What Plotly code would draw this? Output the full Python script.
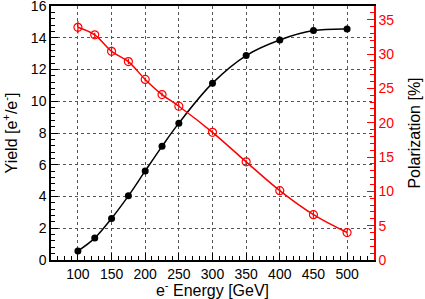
import plotly.graph_objects as go

energy = [100, 125, 150, 175, 200, 225, 250, 300, 350, 400, 450, 500]
yield_vals = [0.57, 1.38, 2.62, 4.04, 5.61, 7.16, 8.62, 11.14, 12.88, 13.86, 14.45, 14.55]
polarization = [33.9, 32.8, 30.4, 28.9, 26.3, 24.1, 22.4, 18.6, 14.3, 10.1, 6.6, 4.0]
pol_err = [0.9, 0.3, 0.7, 0.4, 0.3, 0.3, 0.3, 0.3, 0.3, 0.3, 0.3, 0.3]

FONT = "Liberation Sans, Arial, sans-serif"
RED = "#ff0000"

fig = go.Figure()
fig.add_trace(go.Scatter(
    x=energy, y=yield_vals, mode="lines+markers",
    line=dict(color="black", width=1.5, shape="spline"),
    marker=dict(color="black", size=7, symbol="circle"),
    showlegend=False, yaxis="y"))
fig.add_trace(go.Scatter(
    x=energy, y=polarization, mode="lines+markers",
    line=dict(color=RED, width=1.5, shape="spline"),
    marker=dict(color=RED, size=8, symbol="circle-open", line=dict(width=1.2)),
    error_y=dict(type="data", array=pol_err, color=RED, thickness=1.2, width=0),
    showlegend=False, yaxis="y2"))

fig.update_layout(
    width=425, height=299,
    margin=dict(l=51, r=51, t=6, b=39),
    paper_bgcolor="white", plot_bgcolor="white",
    font=dict(family=FONT, size=14, color="black"),
    xaxis=dict(
        range=[60, 540], tick0=0, dtick=50, automargin=False,
        ticks="inside", ticklen=7, tickcolor="black", tickwidth=1,
        minor=dict(ticks="inside", ticklen=4, dtick=10, tickcolor="black", showgrid=False),
        showline=True, linecolor="black", linewidth=1.5, mirror=True,
        showgrid=True, gridcolor="#555555", griddash="dot", gridwidth=1,
        zeroline=False,
        tickfont=dict(size=14),
        title=dict(text="e<sup>-</sup> Energy [GeV]", font=dict(size=16), standoff=2),
    ),
    yaxis=dict(
        range=[0, 16], dtick=2, automargin=False, ticklabeloverflow="allow",
        ticks="inside", ticklen=7, tickcolor="black",
        minor=dict(ticks="inside", ticklen=4, dtick=0.4, tickcolor="black", showgrid=False),
        showline=True, linecolor="black", linewidth=1.5,
        showgrid=True, gridcolor="#555555", griddash="dot", gridwidth=1,
        zeroline=False,
        tickfont=dict(size=14),
        title=dict(text="Yield [e<sup>+</sup>/e<sup>-</sup>]", font=dict(size=16), standoff=10),
    ),
    yaxis2=dict(
        range=[0, 37], dtick=5, overlaying="y", side="right", automargin=False,
        ticklabeloverflow="allow",
        ticks="inside", ticklen=7, tickcolor=RED,
        minor=dict(ticks="inside", ticklen=4, dtick=1, tickcolor=RED, showgrid=False),
        showline=True, linecolor=RED, linewidth=1.5,
        showgrid=False, zeroline=False,
        tickfont=dict(size=14, color=RED),
        title=dict(text="Polarization [%]", font=dict(size=16, color="black"), standoff=15),
    ),
)

fig.write_html("out.html", config={"displayModeBar": False},
               post_script="document.body.style.margin='0';")
